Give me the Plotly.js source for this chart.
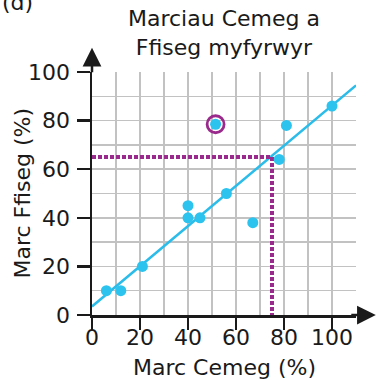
<!DOCTYPE html>
<html>
<head>
<meta charset="utf-8">
<script src="https://cdn.plot.ly/plotly-3.0.1.min.js"></script>
<style>html,body{margin:0;padding:0;background:#fff;}#chart{width:377px;height:380px;}</style>
</head>
<body>
<div id="chart"></div>
<script>
// Data
const chemistry = [6, 12, 21, 40, 40, 45, 56, 67, 78, 81, 100];
const physics   = [10, 10, 20, 45, 40, 40, 50, 38, 64, 78, 86];
const outlierX = [51.5];
const outlierY = [78.5];
const fitX = [0, 110];
const fitY = [3.5, 94.5];
const guideX = [0, 75, 75];
const guideY = [65, 65, 0];
const tickVals = [0, 20, 40, 60, 80, 100];
const tickText = ['0', '20', '40', '60', '80', '100'];

const FONT = 'DejaVu Sans, sans-serif';
const INK = '#1a1a1a';
const CYAN = '#2cc3ef';
const PURPLE = '#9a2a8c';

const traces = [
  {x: fitX, y: fitY, mode: 'lines', line: {color: '#2bbce9', width: 2.5}, hoverinfo: 'skip', cliponaxis: false},
  {x: guideX, y: guideY, mode: 'lines', line: {color: PURPLE, width: 4, dash: '4px,2px'}, hoverinfo: 'skip'},
  {x: chemistry, y: physics, mode: 'markers', marker: {color: CYAN, size: 11}, cliponaxis: false},
  {x: outlierX, y: outlierY, mode: 'markers', marker: {color: CYAN, size: 11}, cliponaxis: false},
  {x: outlierX, y: outlierY, mode: 'markers', marker: {symbol: 'circle-open', color: PURPLE, size: 17, line: {width: 2.8, color: PURPLE}}, cliponaxis: false}
];

const axisCommon = {
  showline: true, linecolor: INK, linewidth: 2.5,
  ticks: 'outside', ticklen: 13, tickwidth: 2.5, tickcolor: INK,
  showgrid: true, gridcolor: '#c2c2c2', gridwidth: 1.5,
  minor: {dtick: 10, showgrid: true, gridcolor: '#c2c2c2', gridwidth: 1.5, ticks: ''},
  zeroline: false, tickvals: tickVals, ticktext: tickText,
  tickfont: {family: FONT, size: 22, color: INK},
  ticklabelstandoff: 2,
  fixedrange: true
};

const layout = {
  width: 377, height: 380,
  margin: {l: 92, r: 21, t: 72, b: 65},
  paper_bgcolor: '#fff', plot_bgcolor: '#fff',
  showlegend: false,
  font: {family: FONT, color: INK},
  xaxis: Object.assign({}, axisCommon, {range: [0, 110], ticklen: 12, ticklabelstandoff: -11}),
  yaxis: Object.assign({}, axisCommon, {range: [0, 100]}),
  annotations: [
    {xref: 'paper', yref: 'paper', x: 1.075, y: 0, ax: -26, ay: 0, showarrow: true, arrowhead: 2, arrowsize: 1.5, arrowwidth: 2.5, arrowcolor: INK, text: '', standoff: 0},
    {xref: 'paper', yref: 'paper', x: 0, y: 1.10, ax: 0, ay: 26, showarrow: true, arrowhead: 2, arrowsize: 1.5, arrowwidth: 2.5, arrowcolor: INK, text: '', standoff: 0},
    {xref: 'paper', yref: 'paper', x: 0.5, y: 1.16, xanchor: 'center', yanchor: 'middle', text: 'Marciau Cemeg a<br>Ffiseg myfyrwyr', showarrow: false, font: {family: FONT, size: 22, color: INK}},
    {xref: 'paper', yref: 'paper', x: 0.5, y: -0.218, xanchor: 'center', yanchor: 'middle', text: 'Marc Cemeg (%)', showarrow: false, font: {family: FONT, size: 22, color: INK}},
    {xref: 'paper', yref: 'paper', x: -0.265, y: 0.5, xanchor: 'center', yanchor: 'middle', textangle: -90, text: 'Marc Ffiseg (%)', showarrow: false, font: {family: FONT, size: 22, color: INK}},
    {xref: 'paper', yref: 'paper', x: -0.348, y: 1.226, xanchor: 'left', yanchor: 'bottom', text: '(d)', showarrow: false, font: {family: FONT, size: 22, color: INK}}
  ]
};

Plotly.newPlot('chart', traces, layout, {staticPlot: true, displayModeBar: false});
</script>
</body>
</html>
